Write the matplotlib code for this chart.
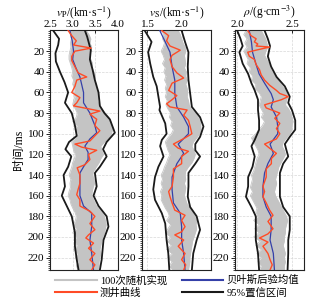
import matplotlib
matplotlib.use("Agg")
import matplotlib.pyplot as plt
from matplotlib.ticker import MultipleLocator
from matplotlib.lines import Line2D

plt.rcParams['font.family'] = ['Liberation Serif', 'Noto Sans CJK SC', 'DejaVu Sans']
plt.rcParams['mathtext.fontset'] = 'stix'

# ---------------- data ----------------
# Panel 1: vp (km/s)
vp_lo_t = [0, 8, 14, 22, 30, 40, 50, 60, 70, 80, 92, 102, 108, 115, 122, 132, 140, 151, 160, 170, 180, 196, 209, 222, 232]
vp_lo = [2.57, 2.70, 2.68, 2.62, 2.63, 2.72, 2.82, 2.90, 2.83, 2.98, 3.05, 3.09, 2.92, 2.84, 2.97, 2.90, 2.80, 2.83, 2.76, 2.87, 2.98, 3.05, 3.05, 3.09, 3.13]
vp_hi_t = [0, 6, 19, 28, 38, 48, 60, 73, 80, 86, 99, 108, 115, 122, 132, 138, 151, 160, 170, 180, 190, 203, 222, 232]
vp_hi = [3.27, 3.32, 3.40, 3.38, 3.44, 3.49, 3.57, 3.60, 3.70, 3.82, 3.93, 3.75, 3.67, 3.75, 3.60, 3.49, 3.53, 3.46, 3.57, 3.75, 3.79, 3.68, 3.64, 3.60]
vp_mean_t = [0, 10, 20, 28, 36, 45, 60, 70, 80, 92, 99, 105, 112, 118, 125, 132, 138, 151, 160, 170, 177, 190, 203, 216, 232]
vp_mean = [2.94, 2.99, 3.02, 3.00, 3.07, 3.16, 3.24, 3.24, 3.38, 3.49, 3.53, 3.38, 3.27, 3.34, 3.34, 3.24, 3.16, 3.16, 3.16, 3.24, 3.42, 3.42, 3.38, 3.42, 3.46]
vp_log_t = [0, 5, 10, 14, 17, 20, 25, 29, 35, 41, 45, 48, 54, 60, 65, 70, 73, 78, 81, 86, 92, 97, 102, 107, 110, 113, 116, 120, 125, 130, 133, 140, 148, 154, 159, 164, 170, 175, 180, 187, 193, 198, 201, 206, 211, 216, 222, 227, 232]
vp_log = [2.90, 2.98, 3.08, 3.02, 3.41, 3.05, 2.98, 2.98, 3.05, 3.12, 3.31, 3.09, 3.05, 2.98, 3.16, 3.09, 3.02, 3.60, 3.38, 3.53, 3.49, 3.60, 3.49, 3.38, 3.05, 3.20, 3.53, 3.35, 3.38, 3.27, 3.10, 3.16, 3.16, 3.12, 3.09, 3.16, 3.16, 3.38, 3.49, 3.38, 3.49, 3.35, 3.29, 3.46, 3.35, 3.49, 3.38, 3.49, 3.42]

# Panel 2: vs (km/s)
vs_lo_t = [0, 11, 21, 32, 45, 54, 64, 74, 77, 90, 100, 106, 112, 122, 132, 142, 154, 164, 177, 187, 203, 216, 232]
vs_lo = [1.46, 1.56, 1.51, 1.54, 1.585, 1.635, 1.66, 1.685, 1.675, 1.76, 1.78, 1.71, 1.685, 1.735, 1.66, 1.61, 1.585, 1.61, 1.71, 1.76, 1.78, 1.805, 1.82]
vs_hi_t = [0, 11, 21, 35, 48, 61, 74, 84, 93, 103, 110, 116, 122, 129, 138, 151, 161, 171, 180, 193, 203, 216, 232]
vs_hi = [2.00, 2.05, 2.10, 2.09, 2.10, 2.125, 2.15, 2.27, 2.32, 2.27, 2.20, 2.20, 2.27, 2.20, 2.10, 2.10, 2.09, 2.125, 2.22, 2.27, 2.22, 2.17, 2.15]
vs_mean_t = [0, 11, 21, 35, 48, 61, 74, 84, 93, 100, 110, 119, 129, 142, 154, 167, 177, 190, 203, 216, 232]
vs_mean = [1.68, 1.76, 1.83, 1.86, 1.90, 1.90, 1.93, 2.03, 2.10, 2.10, 1.95, 2.03, 1.93, 1.86, 1.86, 1.88, 1.98, 2.00, 2.00, 2.03, 2.05]
vs_log_t = [0, 5, 10, 15, 19, 24, 28, 35, 41, 46, 51, 58, 63, 67, 71, 74, 77, 82, 87, 93, 100, 104, 110, 114, 117, 122, 129, 134, 142, 151, 156, 161, 167, 174, 179, 184, 190, 195, 198, 203, 209, 216, 222, 227, 232]
vs_log = [1.71, 1.81, 1.78, 1.83, 1.98, 1.86, 1.83, 1.86, 1.93, 2.03, 1.86, 1.81, 1.93, 1.86, 1.78, 1.83, 2.08, 2.03, 2.10, 2.125, 2.15, 2.05, 1.88, 1.95, 2.10, 2.00, 2.00, 1.88, 1.88, 1.86, 1.81, 1.83, 1.86, 1.90, 2.05, 2.00, 2.05, 2.00, 1.90, 2.03, 1.95, 2.05, 2.00, 2.06, 2.03]

# Panel 3: rho (g/cm3)
rho_lo_t = [0, 8, 15, 21, 32, 42, 51, 58, 67, 77, 87, 96, 106, 112, 122, 132, 142, 151, 161, 171, 180, 193, 203, 216, 232]
rho_lo = [2.00, 2.03, 2.05, 2.02, 2.05, 2.10, 2.13, 2.16, 2.19, 2.19, 2.20, 2.20, 2.16, 2.13, 2.16, 2.14, 2.10, 2.10, 2.08, 2.13, 2.17, 2.17, 2.17, 2.19, 2.20]
rho_hi_t = [0, 8, 15, 25, 35, 45, 54, 64, 70, 77, 87, 96, 103, 110, 116, 122, 129, 138, 151, 161, 171, 180, 193, 203, 216, 232]
rho_hi = [2.25, 2.28, 2.30, 2.28, 2.31, 2.36, 2.435, 2.48, 2.466, 2.50, 2.53, 2.53, 2.48, 2.435, 2.45, 2.466, 2.42, 2.39, 2.39, 2.39, 2.42, 2.48, 2.48, 2.466, 2.466, 2.46]
rho_mean_t = [0, 11, 21, 32, 42, 51, 61, 67, 74, 84, 93, 100, 110, 119, 129, 138, 151, 161, 171, 180, 193, 203, 216, 232]
rho_mean = [2.11, 2.13, 2.14, 2.17, 2.20, 2.25, 2.31, 2.33, 2.31, 2.36, 2.37, 2.37, 2.30, 2.33, 2.28, 2.25, 2.235, 2.235, 2.265, 2.31, 2.31, 2.30, 2.33, 2.34]
rho_log_t = [0, 5, 8, 11, 13, 15, 16, 19, 21, 25, 28, 33, 38, 43, 48, 53, 58, 61, 64, 67, 72, 75, 80, 85, 90, 95, 100, 105, 110, 114, 119, 124, 129, 134, 142, 151, 156, 161, 167, 174, 179, 185, 192, 197, 201, 205, 209, 216, 222, 227, 232]
rho_log = [2.096, 2.127, 2.173, 2.157, 2.188, 2.173, 2.296, 2.173, 2.096, 2.111, 2.157, 2.173, 2.204, 2.219, 2.25, 2.296, 2.358, 2.389, 2.466, 2.404, 2.25, 2.265, 2.389, 2.343, 2.389, 2.358, 2.389, 2.358, 2.25, 2.296, 2.358, 2.312, 2.312, 2.265, 2.265, 2.235, 2.25, 2.235, 2.265, 2.296, 2.327, 2.281, 2.327, 2.281, 2.204, 2.281, 2.235, 2.281, 2.30, 2.32, 2.30]

# Gray band of the 100 realisations (sampled edges)
band_t = [0, 4, 8, 12, 16, 20, 24, 28, 32, 36, 40, 44, 48, 52, 56, 60, 64, 68, 72, 76, 80, 84, 88, 92, 96, 100, 104, 108, 112, 116, 120, 124, 128, 132, 136, 140, 144, 148, 152, 156, 160, 164, 168, 172, 176, 180, 184, 188, 192, 196, 200, 204, 208, 212, 216, 220, 224, 228, 232]
vp_band_lo = [2.92, 2.95, 2.97, 2.95, 2.96, 2.94, 2.92, 2.92, 2.95, 2.98, 3.00, 2.98, 3.02, 3.00, 3.04, 3.02, 3.05, 3.02, 3.00, 3.06, 3.10, 3.08, 3.00, 3.10, 3.05, 3.12, 3.05, 2.98, 3.00, 3.02, 3.06, 3.04, 3.00, 2.98, 2.95, 2.92, 2.96, 2.94, 2.95, 2.92, 2.90, 2.94, 2.96, 3.00, 3.05, 3.08, 3.06, 3.02, 3.08, 3.00, 3.08, 3.04, 3.10, 3.02, 3.10, 3.06, 3.12, 3.08, 3.12]
vp_band_hi = [3.30, 3.36, 3.40, 3.38, 3.42, 3.40, 3.36, 3.40, 3.44, 3.42, 3.47, 3.50, 3.48, 3.53, 3.52, 3.55, 3.56, 3.55, 3.58, 3.65, 3.72, 3.80, 3.84, 3.86, 3.88, 3.85, 3.80, 3.70, 3.62, 3.64, 3.68, 3.62, 3.58, 3.52, 3.46, 3.44, 3.47, 3.48, 3.45, 3.43, 3.42, 3.46, 3.50, 3.56, 3.64, 3.70, 3.72, 3.74, 3.72, 3.70, 3.66, 3.64, 3.62, 3.60, 3.62, 3.60, 3.58, 3.58, 3.56]
vs_band_lo = [1.70, 1.74, 1.72, 1.75, 1.73, 1.70, 1.73, 1.75, 1.72, 1.76, 1.74, 1.77, 1.75, 1.78, 1.76, 1.78, 1.76, 1.79, 1.77, 1.80, 1.84, 1.82, 1.86, 1.84, 1.88, 1.85, 1.80, 1.76, 1.78, 1.80, 1.83, 1.80, 1.78, 1.75, 1.73, 1.70, 1.72, 1.70, 1.72, 1.69, 1.71, 1.70, 1.73, 1.76, 1.80, 1.82, 1.78, 1.84, 1.80, 1.76, 1.84, 1.79, 1.85, 1.78, 1.86, 1.80, 1.86, 1.82, 1.87]
vs_band_hi = [1.95, 1.98, 2.00, 2.02, 2.05, 2.06, 2.04, 2.05, 2.06, 2.04, 2.07, 2.06, 2.08, 2.06, 2.08, 2.09, 2.08, 2.10, 2.11, 2.14, 2.20, 2.24, 2.27, 2.28, 2.28, 2.26, 2.22, 2.17, 2.15, 2.18, 2.20, 2.18, 2.15, 2.10, 2.06, 2.05, 2.06, 2.04, 2.06, 2.05, 2.04, 2.06, 2.08, 2.12, 2.16, 2.19, 2.22, 2.21, 2.22, 2.20, 2.18, 2.16, 2.15, 2.14, 2.13, 2.12, 2.12, 2.11, 2.10]
rho_band_lo = [2.08, 2.06, 2.09, 2.07, 2.09, 2.06, 2.08, 2.10, 2.09, 2.12, 2.11, 2.14, 2.13, 2.17, 2.16, 2.20, 2.22, 2.21, 2.20, 2.22, 2.24, 2.22, 2.25, 2.23, 2.20, 2.17, 2.13, 2.15, 2.17, 2.19, 2.20, 2.18, 2.17, 2.16, 2.15, 2.13, 2.14, 2.13, 2.12, 2.14, 2.12, 2.14, 2.16, 2.18, 2.17, 2.19, 2.15, 2.20, 2.16, 2.20, 2.15, 2.21, 2.17, 2.22, 2.18, 2.22, 2.19, 2.22, 2.20]
rho_band_hi = [2.22, 2.24, 2.26, 2.27, 2.28, 2.26, 2.25, 2.27, 2.29, 2.30, 2.32, 2.35, 2.38, 2.40, 2.43, 2.45, 2.46, 2.45, 2.44, 2.47, 2.49, 2.50, 2.51, 2.50, 2.50, 2.48, 2.45, 2.42, 2.41, 2.43, 2.44, 2.42, 2.40, 2.38, 2.37, 2.36, 2.35, 2.36, 2.35, 2.34, 2.35, 2.37, 2.39, 2.41, 2.43, 2.45, 2.46, 2.45, 2.44, 2.44, 2.43, 2.43, 2.42, 2.43, 2.44, 2.43, 2.44, 2.43, 2.43]

time_ticks = [20, 40, 60, 80, 100, 120, 140, 160, 180, 200, 220]
xlabels = [r'$v_{\rm P}$/(km·s$^{-1}$)', r'$v_{\rm S}$/(km·s$^{-1}$)', r'$\rho$/(g·cm$^{-3}$)']
xticks = [[2.5, 3.0, 3.5, 4.0], [1.5, 2.0], [2.0, 2.5]]
xlims = [(2.5, 4.0), (1.42, 2.43), (1.98, 2.61)]
legend_labels = ['100次随机实现', '测井曲线', '贝叶斯后验均值', '95%置信区间']

C_GRAY = '#c4c4c4'
C_BLUE = '#3540a8'
C_RED = '#ff4b26'
C_BLACK = '#1a1a1a'

panels = [
    (vp_band_lo, vp_band_hi, vp_lo_t, vp_lo, vp_hi_t, vp_hi, vp_mean_t, vp_mean, vp_log_t, vp_log),
    (vs_band_lo, vs_band_hi, vs_lo_t, vs_lo, vs_hi_t, vs_hi, vs_mean_t, vs_mean, vs_log_t, vs_log),
    (rho_band_lo, rho_band_hi, rho_lo_t, rho_lo, rho_hi_t, rho_hi, rho_mean_t, rho_mean, rho_log_t, rho_log),
]

W, H = 325, 303
fig = plt.figure(figsize=(W / 100, H / 100), dpi=100)
ax_px = [(50, 118), (142, 211), (235, 304)]
top_px, bot_px = 29.5, 270

for i, (x0, x1) in enumerate(ax_px):
    ax = fig.add_axes([x0 / W, 1 - bot_px / H, (x1 - x0) / W, (bot_px - top_px) / H])
    blo, bhi, lot, lo, hit, hi, mt, mv, lt, lv = panels[i]
    ax.fill_betweenx(band_t, blo, bhi, color=C_GRAY, lw=0, zorder=1)
    ax.plot(blo, band_t, color=C_GRAY, lw=0.6, zorder=1)
    ax.plot(bhi, band_t, color=C_GRAY, lw=0.6, zorder=1)
    ax.plot(lo, lot, color=C_BLACK, lw=1.3, zorder=3)
    ax.plot(hi, hit, color=C_BLACK, lw=1.3, zorder=3)
    ax.plot(mv, mt, color=C_BLUE, lw=0.9, zorder=4)
    ax.plot(lv, lt, color=C_RED, lw=1.0, zorder=5)

    ax.set_xlim(*xlims[i])
    ax.set_ylim(232, -1)
    ax.set_yticks(time_ticks)
    ax.yaxis.set_minor_locator(MultipleLocator(2))
    ax.set_xticks(xticks[i])
    ax.set_xticklabels([f'{v:.1f}' for v in xticks[i]])
    ax.xaxis.tick_top()
    ax.xaxis.set_label_position('top')
    ax.set_xlabel(xlabels[i], fontsize=8.3, labelpad=2.5)
    ax.tick_params(axis='x', direction='in', length=2, labelsize=8, pad=0.5, width=0.6)
    ax.tick_params(axis='y', which='major', direction='out', length=3, labelsize=8, pad=1, width=0.6)
    ax.tick_params(axis='y', which='minor', direction='out', length=1.5, width=0.5)
    ax.grid(True, axis='both', which='major', color='#d8d8d8', ls='--', lw=0.5, zorder=0)
    ax.set_axisbelow(True)
    for s in ax.spines.values():
        s.set_linewidth(0.8)
        s.set_color('#222222')
    if i == 0:
        ax.set_ylabel('时间/ms', fontsize=8.5, labelpad=2)

handles = [Line2D([], [], color=C_GRAY, lw=1.5), Line2D([], [], color=C_RED, lw=1.5),
           Line2D([], [], color=C_BLUE, lw=1.5), Line2D([], [], color=C_BLACK, lw=1.5)]
fig.legend(handles, legend_labels, ncol=2, loc='upper left', bbox_to_anchor=(55 / W, 1 - 275 / H),
           frameon=False, fontsize=7.5, handlelength=4.0, handletextpad=0.3, columnspacing=1.4,
           labelspacing=0.25, borderpad=0, borderaxespad=0)

fig.savefig('out.png', dpi=100)
